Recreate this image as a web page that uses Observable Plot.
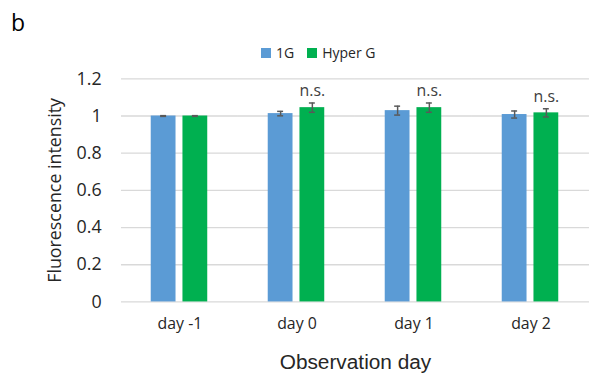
<!DOCTYPE html>
<html><head><meta charset="utf-8">
<script src="https://cdn.jsdelivr.net/npm/d3@7"></script>
<script src="https://cdn.jsdelivr.net/npm/@observablehq/plot@0.6"></script>
<style>
html,body{margin:0;padding:0;background:#fff;overflow:hidden;}
#wrap{position:relative;width:589px;height:381px;overflow:hidden;font-family:"Open Sans",sans-serif;}
#wrap svg{position:absolute;left:0;top:0;}
#panel{position:absolute;left:11px;top:6px;font-size:23px;color:#000;z-index:2;}
#legend{position:absolute;left:261px;top:43px;font-size:14px;color:#262626;display:flex;align-items:center;gap:5px;z-index:2;}
.sw{display:inline-block;width:10px;height:10px;}
</style></head>
<body><div id="wrap"><div id="panel">b</div><div id="legend"></div></div>
<script>
const days = ["day -1", "day 0", "day 1", "day 2"];
const groups = ["1G", "Hyper G"];
const colors = ["#5B9BD5", "#00B050"];
const means1G = [1.0, 1.013, 1.029, 1.008];
const err1G = [0.002, 0.012, 0.024, 0.019];
const meansHG = [1.0, 1.045, 1.045, 1.017];
const errHG = [0.002, 0.025, 0.025, 0.022];
const sigHG = ["", "n.s.", "n.s.", "n.s."];
const yTicks = [0, 0.2, 0.4, 0.6, 0.8, 1, 1.2];

const data = [];
days.forEach((d, i) => {
  data.push({day: d, group: groups[0], mean: means1G[i], err: err1G[i], sig: ""});
  data.push({day: d, group: groups[1], mean: meansHG[i], err: errHG[i], sig: sigHG[i]});
});

const lg = document.getElementById("legend");
groups.forEach((g, i) => {
  const s = document.createElement("span"); s.className = "sw"; s.style.background = colors[i];
  const t = document.createElement("span"); t.textContent = g; t.style.marginRight = i === 0 ? "8px" : "0";
  lg.appendChild(s); lg.appendChild(t);
});

const chart = Plot.plot({
  width: 594, height: 381,
  marginTop: 79, marginBottom: 77, marginLeft: 121, marginRight: 0,
  style: {fontFamily: "'Open Sans', sans-serif", background: "transparent", color: "#262626"},
  fx: {domain: days, padding: 0},
  x: {domain: groups, paddingInner: 0.212, paddingOuter: 0.897, axis: null},
  y: {domain: [0, 1.2]},
  color: {domain: groups, range: colors},
  marks: [
    Plot.ruleY(yTicks, {stroke: "#D9D9D9", strokeWidth: 1.3}),
    Plot.barY(data, {fx: "day", x: "group", y: "mean", fill: "group"}),
    Plot.ruleX(data, {fx: "day", x: "group", y1: d => d.mean - d.err, y2: d => d.mean + d.err, stroke: "#595959", strokeWidth: 1.5}),
    Plot.tickY(data, {fx: "day", x: "group", y: d => d.mean - d.err, stroke: "#595959", strokeWidth: 1.5, insetLeft: 9.5, insetRight: 9.5}),
    Plot.tickY(data, {fx: "day", x: "group", y: d => d.mean + d.err, stroke: "#595959", strokeWidth: 1.5, insetLeft: 9.5, insetRight: 9.5}),
    Plot.text(data.filter(d => d.sig), {fx: "day", x: "group", y: d => d.mean + d.err, text: "sig", dy: -12, fontSize: 16, fill: "#404040"}),
    Plot.axisY({ticks: yTicks, tickSize: 0, tickPadding: 20, fontSize: 18, tickFormat: d => String(d), label: "Fluorescence intensity", labelAnchor: "center", labelOffset: 74, labelArrow: false}),
    Plot.axisFx({anchor: "bottom", tickSize: 0, tickPadding: 16, fontSize: 16, label: "Observation day", labelAnchor: "center", labelOffset: 68, labelArrow: false})
  ]
});
document.getElementById("wrap").appendChild(chart);
chart.querySelectorAll("text").forEach(t => {
  if (t.textContent === "Observation day") { t.style.fontSize = "21px"; t.style.fontFamily = "'Liberation Sans', Arial, sans-serif"; }
  if (t.textContent === "Fluorescence intensity") { t.style.fontSize = "18px"; }
});
</script></body></html>
